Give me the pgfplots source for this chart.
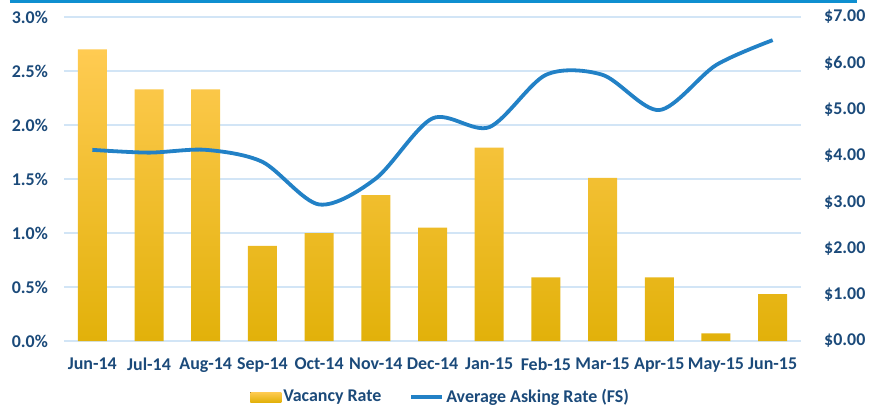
\documentclass[border=0pt]{standalone}
\usepackage{pgfplots}
\pgfplotsset{compat=1.18}
\usepackage{fontspec}
\setmainfont{Carlito}
\definecolor{tickblue}{HTML}{1B4A7A}
\definecolor{gridblue}{HTML}{D2E5F6}
\definecolor{lineblue}{HTML}{2281C6}
\definecolor{topbar}{HTML}{0E8FD0}
\definecolor{bartop}{HTML}{FFCB52}
\definecolor{barmid}{HTML}{FEC720}
\definecolor{barbot}{HTML}{E2B10A}
\begin{document}
\fontsize{18}{21}\selectfont\bfseries
\begin{tikzpicture}[x=1bp,y=1bp]
\useasboundingbox (-64,-67) rectangle (810,341);
\draw[topbar, line width=3.5bp] (-54,339.5) -- (793,339.5);
\begin{axis}[
  at={(0,0)}, anchor=south west,
  scale only axis, width=737bp, height=324bp,
  xmin=-0.5, xmax=12.5, ymin=0, ymax=3,
  axis line style={draw=none},
  axis y line*=left, axis x line*=bottom,
  major tick length=0pt,
  xtick={0,...,12},
  xticklabels={Jun-14,Jul-14,Aug-14,Sep-14,Oct-14,Nov-14,Dec-14,Jan-15,Feb-15,Mar-15,Apr-15,May-15,Jun-15},
  ytick={0,0.5,...,3},
  yticklabel={\pgfmathprintnumber[fixed,fixed zerofill,precision=1]{\tick}\%},
  /pgf/number format/assume math mode=true,
  ymajorgrids, grid style={gridblue, line width=1.2bp},
  ticklabel style={font=\fontsize{18}{21}\selectfont\bfseries, text=tickblue},
  xticklabel style={yshift=-11bp},
  yticklabel style={xshift=-10bp},
  ybar, bar width=29bp,
]
\addplot[draw=none, shading=axis, top color=bartop, middle color=barmid, bottom color=barbot]
 coordinates {(0,2.70) (1,2.33) (2,2.33) (3,0.88) (4,1.00) (5,1.35) (6,1.05) (7,1.79) (8,0.59) (9,1.51) (10,0.59) (11,0.07) (12,0.435)};
\end{axis}
\begin{axis}[
  at={(0,0)}, anchor=south west,
  scale only axis, width=737bp, height=324bp,
  xmin=-0.5, xmax=12.5, ymin=0, ymax=7,
  axis line style={draw=none},
  axis y line*=right, axis x line=none,
  major tick length=0pt,
  ytick={0,1,...,7},
  yticklabel={\$\pgfmathprintnumber[fixed,fixed zerofill,precision=2]{\tick}},
  /pgf/number format/assume math mode=true,
  ticklabel style={font=\fontsize{18}{21}\selectfont\bfseries, text=tickblue},
  yticklabel style={xshift=17bp},
  legend style={at={(0.511,-0.173)}, anchor=center, draw=none, fill=none,
    legend columns=2, font=\fontsize{18}{21}\selectfont\bfseries, text=tickblue,
    /tikz/every even column/.append style={column sep=26bp},
    nodes={inner sep=2bp}},
  legend image code/.code={\draw[#1] (0bp,0bp) -- (31bp,0bp);},
]
\addlegendimage{legend image code/.code={\fill[draw=none, top color=bartop, middle color=barmid, bottom color=barbot] (0bp,-5bp) rectangle (31bp,5bp);}}
\addlegendentry{Vacancy Rate}
\addplot[lineblue, line width=3.8bp, smooth, tension=0.5]
 coordinates {(0,4.13) (1,4.07) (2,4.13) (3,3.87) (4,2.95) (5,3.51) (6,4.81) (7,4.62) (8,5.75) (9,5.75) (10,4.99) (11,5.96) (12,6.50)};
\addlegendentry{Average Asking Rate (FS)}
\end{axis}
\end{tikzpicture}
\end{document}
